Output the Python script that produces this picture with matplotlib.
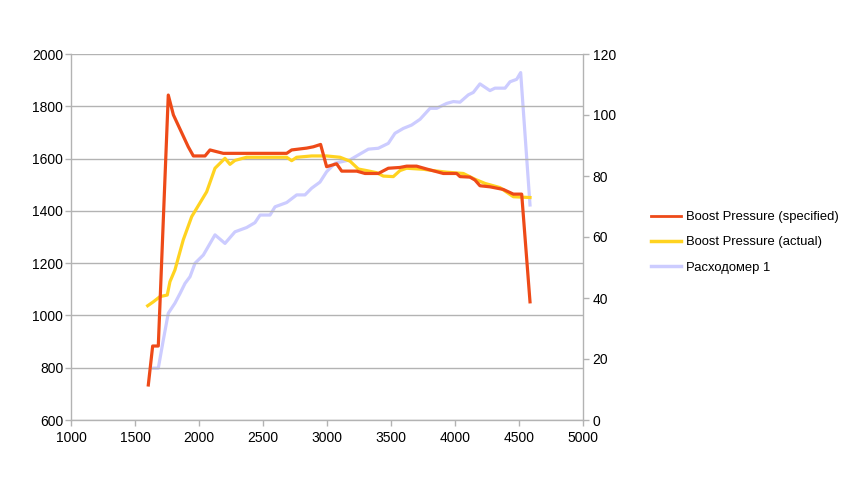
import matplotlib
matplotlib.use("Agg")
import matplotlib.pyplot as plt
from matplotlib.lines import Line2D

plt.rcParams['font.family'] = ['Liberation Sans', 'DejaVu Sans']

# Boost Pressure (specified) - left axis
rpm_spec = [1604, 1638, 1682, 1760, 1800, 1916, 1956, 2047, 2086, 2125,
            2190, 2685, 2724, 2841, 2893, 2950, 2997, 3075, 3115, 3232,
            3297, 3401, 3479, 3570, 3622, 3700, 3779, 3909, 4013, 4039,
            4117, 4156, 4195, 4273, 4377, 4456, 4521, 4586]
boost_spec = [734, 883, 883, 1843, 1767, 1645, 1610, 1610, 1633, 1628,
              1620, 1620, 1633, 1640, 1645, 1654, 1569, 1580, 1552, 1552,
              1543, 1543, 1563, 1566, 1571, 1571, 1560, 1543, 1543, 1531,
              1529, 1518, 1496, 1492, 1482, 1464, 1464, 1052]

# Boost Pressure (actual) - left axis
rpm_act = [1599, 1643, 1695, 1752, 1773, 1812, 1877, 1943, 2060, 2125,
           2203, 2242, 2281, 2372, 2685, 2724, 2763, 2880, 2997, 3102,
           3180, 3245, 3310, 3388, 3440, 3518, 3570, 3622, 3752, 3830,
           3935, 4065, 4156, 4234, 4351, 4456, 4586]
boost_act = [1037, 1052, 1072, 1078, 1129, 1174, 1289, 1378, 1473, 1563,
             1601, 1578, 1593, 1605, 1605, 1592, 1605, 1610, 1610, 1605,
             1590, 1560, 1554, 1546, 1533, 1531, 1554, 1563, 1559, 1554,
             1548, 1543, 1521, 1505, 1489, 1454, 1451]

# Расходомер 1 - right axis
rpm_flow = [1645, 1682, 1721, 1760, 1812, 1852, 1891, 1930, 1969, 2034,
            2125, 2203, 2281, 2372, 2437, 2477, 2555, 2594, 2685, 2763,
            2828, 2880, 2945, 2997, 3063, 3180, 3245, 3323, 3401, 3479,
            3531, 3596, 3661, 3727, 3805, 3857, 3935, 3987, 4039, 4104,
            4143, 4195, 4273, 4312, 4391, 4430, 4482, 4513, 4586]
flow = [17, 17, 26.2, 35, 38.3, 41.5, 44.8, 47, 51.4, 54.1,
        60.7, 57.9, 61.7, 63.1, 64.7, 67.2, 67.2, 69.9, 71.3, 73.8,
        73.8, 76, 78, 81.4, 84.2, 85.3, 86.9, 88.8, 89.1, 90.7,
        94, 95.6, 96.7, 98.6, 102.2, 102.2, 103.8, 104.4, 104.2, 106.6,
        107.4, 110.2, 108, 108.8, 108.8, 110.9, 111.7, 113.9, 70.5]

labels = ["Boost Pressure (specified)", "Boost Pressure (actual)", "Расходомер 1"]
x_ticks = [1000, 1500, 2000, 2500, 3000, 3500, 4000, 4500, 5000]
left_ticks = [600, 800, 1000, 1200, 1400, 1600, 1800, 2000]
right_ticks = [0, 20, 40, 60, 80, 100, 120]

c_spec = "#ee4a18"
c_act = "#ffd320"
c_flow = "#ccccff"
grid_c = "#b3b3b3"

fig = plt.figure(figsize=(8.5, 4.8), dpi=100)
ax = fig.add_axes([71/850, 1-420/480, (583-71)/850, (420-54)/480])
ax2 = ax.twinx()
ax.set_zorder(2)
ax.patch.set_visible(False)

ax2.plot(rpm_flow, flow, color=c_flow, lw=2.3)
ax.plot(rpm_act, boost_act, color=c_act, lw=2.3)
ax.plot(rpm_spec, boost_spec, color=c_spec, lw=2.3)

ax.set_xlim(1000, 5000)
ax.set_ylim(600, 2000)
ax2.set_ylim(0, 120)
ax.set_xticks(x_ticks)
ax.set_yticks(left_ticks)
ax2.set_yticks(right_ticks)

ax.grid(axis='y', color=grid_c, lw=1)
ax.set_axisbelow(True)

for a in (ax, ax2):
    for s in a.spines.values():
        s.set_color(grid_c)
        s.set_linewidth(1)
    a.spines['top'].set_visible(False)
ax.spines['right'].set_visible(False)
ax2.spines['left'].set_visible(False)
ax2.spines['bottom'].set_visible(False)

ax.tick_params(axis='x', direction='out', length=4, width=1, color=grid_c,
               labelsize=10, pad=4)
ax.tick_params(axis='y', direction='out', length=4, width=1, color=grid_c,
               labelsize=10, pad=1.5)
ax2.tick_params(axis='y', direction='out', length=4, width=1, color=grid_c,
                labelsize=10, pad=3)

handles = [Line2D([], [], color=c_spec, lw=2),
           Line2D([], [], color=c_act, lw=2.5),
           Line2D([], [], color=c_flow, lw=2.5)]
fig.legend(handles, labels, loc='upper left', bbox_to_anchor=(651/850, 1-211/480),
           frameon=False, fontsize=9.4, handlelength=2.3, handletextpad=0.4,
           labelspacing=1.0, borderpad=0, borderaxespad=0)

fig.savefig("out.png", dpi=100, facecolor="white")
